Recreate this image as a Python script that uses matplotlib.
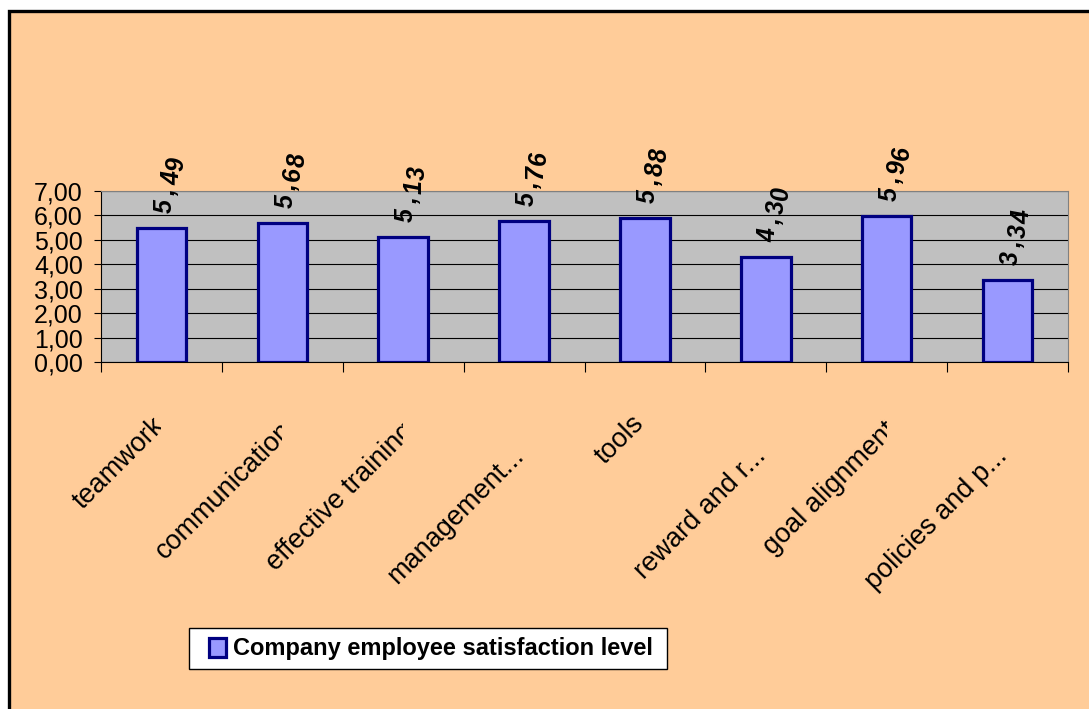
import matplotlib.pyplot as plt
from matplotlib.patches import Rectangle
from matplotlib.font_manager import FontProperties
from matplotlib.textpath import TextPath
from matplotlib.transforms import Bbox, TransformedBbox, blended_transform_factory

categories = ["teamwork", "communication", "effective training", "management...",
              "tools", "reward and r...", "goal alignment", "policies and p..."]
values = [5.49, 5.68, 5.13, 5.76, 5.88, 4.30, 5.96, 3.34]
y_ticks = [0, 1, 2, 3, 4, 5, 6, 7]
series_name = "Company employee satisfaction level"

plt.rcParams['font.family'] = ['Liberation Sans', 'DejaVu Sans']

W, H = 1089, 709
fig = plt.figure(figsize=(W / 100, H / 100), dpi=100, facecolor="white")

# fondo naranja con borde negro
fig.patches.append(Rectangle((8.5 / W, -0.05), 1.2, 1 - 10.5 / H + 0.05,
                             transform=fig.transFigure, facecolor="#FFCC99",
                             edgecolor="black", linewidth=2.4, zorder=-10))

ax = fig.add_axes([101 / W, 1 - 362 / H, (1068 - 101) / W, (362 - 191) / H])
ax.set_facecolor("#C0C0C0")

x = list(range(len(categories)))
bars = ax.bar(x, values, width=0.41, color="#9999FF", edgecolor="#000080",
              linewidth=2.3, zorder=3, label=series_name)

ax.set_xlim(-0.5, len(categories) - 0.5)
ax.set_ylim(0, 7)
ax.set_yticks(y_ticks)
ax.set_yticklabels([f"{t:.2f}".replace(".", ",") for t in y_ticks], fontsize=18)
ax.yaxis.grid(True, color="black", linewidth=0.8, zorder=1)
ax.set_axisbelow(True)
ax.tick_params(axis="y", length=5, width=0.8, pad=8, direction="out")

# marcas del eje x entre categorías
ax.set_xticks([i - 0.5 for i in range(len(categories) + 1)])
ax.set_xticklabels([])
ax.tick_params(axis="x", length=7, width=0.8, direction="out")

for side in ["top", "right"]:
    ax.spines[side].set_color("#808080")
for side in ["left", "bottom"]:
    ax.spines[side].set_color("black")
for sp in ax.spines.values():
    sp.set_linewidth(0.8)

# etiquetas de categoría: las largas se desplazan y se recortan en el centro
label_size = 19.5
fp = FontProperties(family="Liberation Sans", size=label_size)
clip_tr = blended_transform_factory(ax.transData, fig.transFigure)
for i, name in enumerate(categories):
    if name.endswith("..."):
        dx, dy = 1, -95
    else:
        length_px = TextPath((0, 0), name, prop=fp).get_extents().width * 100 / 72
        extra = max(length_px - 80, 0)
        dx, dy = 0.11 * extra, -(63 + 0.06 * extra)
    t = ax.annotate(name, xy=(i, 0), xycoords=("data", "axes fraction"),
                    xytext=(dx, dy), textcoords="offset pixels",
                    rotation=45, ha="right", va="baseline", rotation_mode="anchor",
                    fontsize=label_size, annotation_clip=False)
    t.set_clip_box(TransformedBbox(Bbox([[-1, 0], [i, 1]]), clip_tr))
    t.set_clip_on(True)

# valores sobre las barras, carácter a carácter
for i, v in enumerate(values):
    label = f"{v:.2f}".replace(".", ",")
    for k, ch in enumerate(label):
        ax.annotate(ch, xy=(i, v), xytext=(3 + 4 * k, 22 + 13.8 * k),
                    textcoords="offset pixels", rotation=90,
                    ha="center", va="center", fontsize=18,
                    fontweight="bold", fontstyle="italic",
                    annotation_clip=False)

# leyenda con marco propio
fig.patches.append(Rectangle((189 / W, 1 - 669 / H), (667 - 189) / W, 41 / H,
                             transform=fig.transFigure, facecolor="white",
                             edgecolor="black", linewidth=1.0, zorder=5))
leg = fig.legend(handles=[bars], labels=[series_name], loc="center",
                 bbox_to_anchor=(431 / W, 1 - 649 / H), frameon=False,
                 handlelength=0.68, handleheight=0.9, handletextpad=0.3,
                 borderpad=0.2, prop={"size": 17, "weight": "bold"})
leg.set_zorder(6)

fig.savefig("out.png", dpi=100, facecolor=fig.get_facecolor())
